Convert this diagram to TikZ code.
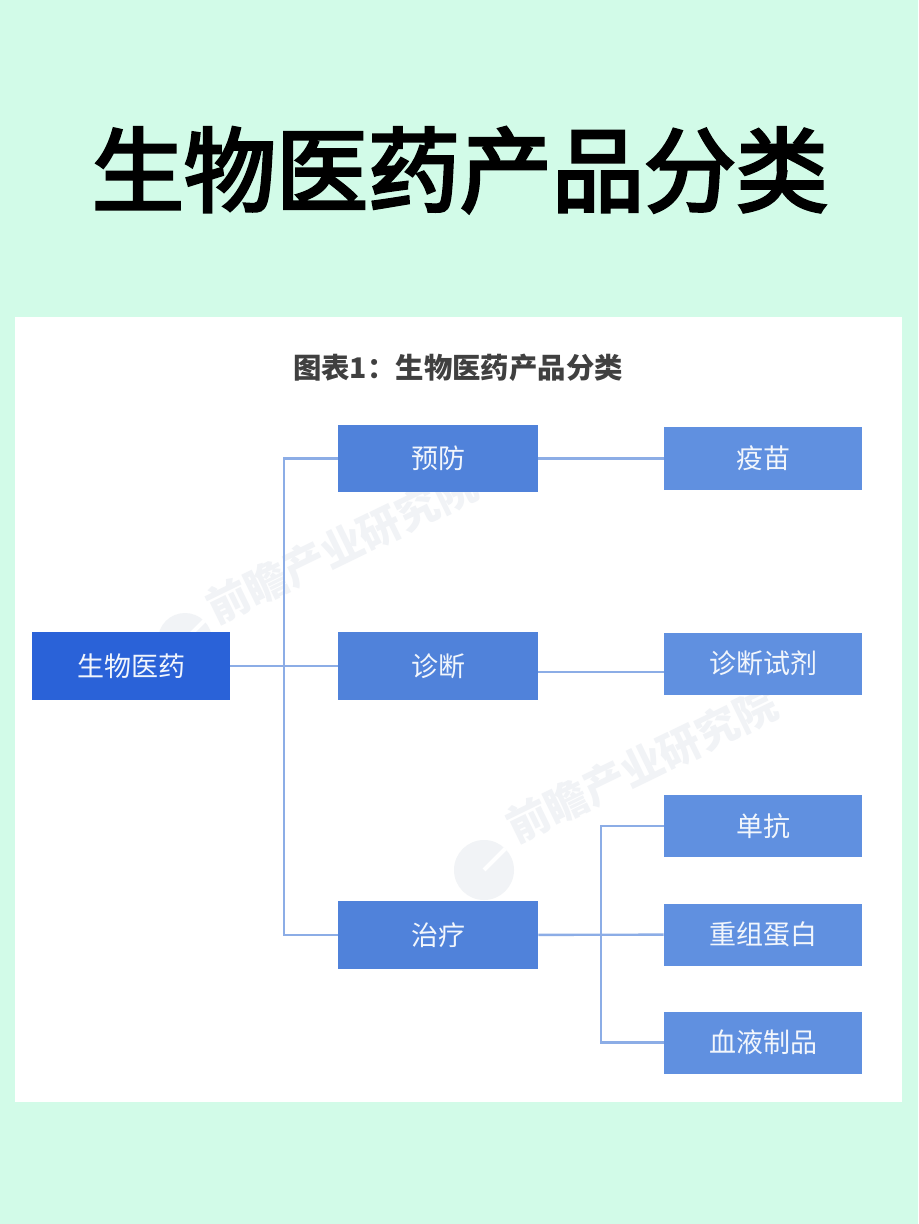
\documentclass[tikz,border=0pt]{standalone}
\usepackage{fontspec}
\setmainfont{Noto Sans CJK SC}
\newfontfamily\titlefont[FakeBold=3.5]{Noto Sans CJK SC}
\usetikzlibrary{calc}
\definecolor{bgmint}{HTML}{D2FBE8}
\definecolor{rootblue}{HTML}{2A62D8}
\definecolor{midblue}{HTML}{5082DA}
\definecolor{leafblue}{HTML}{6090E0}
\definecolor{linkblue}{HTML}{8CADE6}
\definecolor{markgrey}{HTML}{F1F3F6}

\begin{document}
\begin{tikzpicture}[x=0.5pt, y=-0.5pt,
                    box/.style={minimum width=99pt, inner sep=0pt, text=white!92!leafblue, font=\fontsize{13.5}{16}\selectfont},
                    rootbox/.style={box, fill=rootblue, minimum height=34pt},
                    midbox/.style={box, fill=midblue, minimum width=100pt, minimum height=34pt},
                    leafbox/.style={box, fill=leafblue, minimum height=31pt},
                    link/.style={draw=linkblue, line width=1.2pt},
                    wmark/.style={text=markgrey, rotate=26, font=\bfseries\fontsize{21}{24}\selectfont}
                    ]
    \useasboundingbox (0,0) rectangle (918,1224);
    \fill[bgmint] (0,0) rectangle (918,1224);
    \fill[white] (15,317) rectangle (902,1102);

    % watermarks
    \node[wmark] (markA) at (342,546) {前瞻产业研究院};
    \node[wmark] (markB) at (642,765) {前瞻产业研究院};
    \node[circle, fill=markgrey, minimum size=27pt, inner sep=0pt] (logoA) at (185,640) {};
    \node[circle, fill=markgrey, minimum size=30pt, inner sep=0pt] (logoB) at (484,870) {};
    \draw[white, line width=2pt] (logoA.center) -- (logoA.north east);
    \draw[white, line width=2pt] (logoB.center) -- (logoB.north east);

    \node[font=\titlefont\fontsize{46}{50}\selectfont] (title) at (460,170) {生物医药产品分类};
    \node[font=\bfseries\fontsize{14.2}{16}\selectfont, text=black!75] (caption) at (458,368) {图表1：生物医药产品分类};

    \coordinate (busA) at (284,667);
    \coordinate (busB) at (601,935);
    \coordinate (zdline) at (601,672);

    \node[rootbox] (root) at (131,666) {生物医药};

    \node[midbox, minimum height=33.5pt] (yf) at (438,458.5) {预防};
    \node[midbox] (zd) at (438,666) {诊断};
    \node[midbox] (zl) at (438,935) {治疗};

    \node[leafbox] (ym) at (763,458.5) {疫苗};
    \node[leafbox] (zs) at (763,663.5) {诊断试剂};
    \node[leafbox] (dk) at (763,826) {单抗};
    \node[leafbox] (cz) at (763,934.5) {重组蛋白};
    \node[leafbox] (xy) at (763,1042.5) {血液制品};

    \draw[link] (root) -- (zd);
    \draw[link] (yf.west) -| (busA) |- (zl.west);

    \draw[link] (yf) -- (ym);
    \draw[link] (zd.east |- zdline) -- (zs.west |- zdline);
    \draw[link] (zl) -- (cz);
    \draw[link] (dk.west) -| (busB) |- (xy.west);
\end{tikzpicture}
\end{document}
